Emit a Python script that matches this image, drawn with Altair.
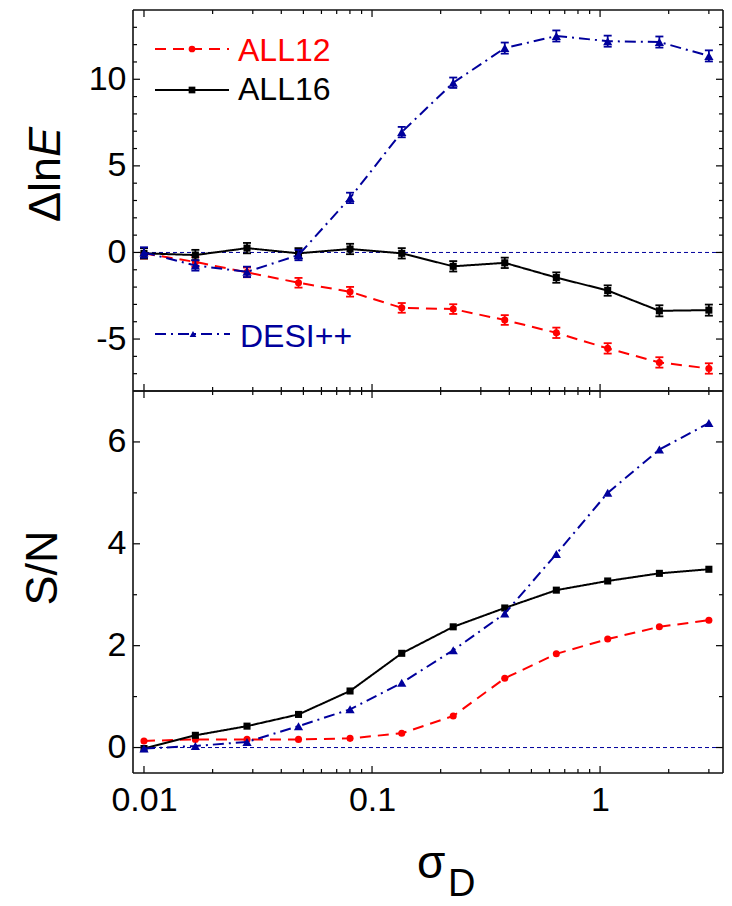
import altair as alt
import pandas as pd

# ---------------- data ----------------
sigma_D = [0.01, 0.0168, 0.0283, 0.0476, 0.0801, 0.135, 0.227, 0.382, 0.643, 1.08, 1.82, 3.0]

dlnE_ALL12 = [-0.05, -0.55, -1.15, -1.75, -2.27, -3.20, -3.27, -3.90, -4.64, -5.54, -6.35, -6.70]
dlnE_ALL16 = [-0.05, -0.15, 0.25, -0.05, 0.20, -0.05, -0.80, -0.60, -1.45, -2.20, -3.37, -3.33]
dlnE_DESI = [0.00, -0.75, -1.12, -0.15, 3.15, 6.95, 9.80, 11.80, 12.50, 12.20, 12.15, 11.35]

err_ALL12 = [0.30, 0.28, 0.28, 0.28, 0.28, 0.28, 0.28, 0.28, 0.30, 0.30, 0.30, 0.30]
err_ALL16 = [0.30, 0.30, 0.30, 0.30, 0.30, 0.30, 0.30, 0.30, 0.30, 0.30, 0.32, 0.32]
err_DESI = [0.30, 0.30, 0.30, 0.30, 0.30, 0.30, 0.30, 0.32, 0.32, 0.32, 0.32, 0.32]

SN_ALL12 = [0.13, 0.16, 0.16, 0.16, 0.18, 0.28, 0.62, 1.36, 1.84, 2.13, 2.37, 2.50]
SN_ALL16 = [-0.02, 0.24, 0.42, 0.65, 1.11, 1.85, 2.37, 2.74, 3.09, 3.27, 3.42, 3.50]
SN_DESI = [-0.02, 0.03, 0.11, 0.42, 0.75, 1.27, 1.91, 2.63, 3.80, 5.00, 5.85, 6.37]

series_names = ["ALL12", "ALL16", "DESI++"]

x_major = [0.01, 0.1, 1]
x_minor = [0.02, 0.03, 0.04, 0.05, 0.06, 0.07, 0.08, 0.09,
           0.2, 0.3, 0.4, 0.5, 0.6, 0.7, 0.8, 0.9, 2, 3]
top_y_major = [-5, 0, 5, 10]
top_y_minor = [-7, -6, -4, -3, -2, -1, 1, 2, 3, 4, 6, 7, 8, 9, 11, 12, 13]
bot_y_major = [0, 2, 4, 6]
bot_y_minor = [1, 3, 5]

# ---------------- styles ----------------
FONT = "Liberation Sans"
RED = "#FF0000"
BLACK = "#000000"
BLUE = "#00009C"
style = {
    "ALL12": dict(color=RED, dash=[11, 7], shape="circle", size=50),
    "ALL16": dict(color=BLACK, dash=[1, 0], shape="square", size=50),
    "DESI++": dict(color=BLUE, dash=[11, 5, 2, 5], shape="triangle-up", size=85),
}

W = 590
H1 = 381
H2 = 382
xscale = alt.Scale(type="log", domain=[0.00895, 3.46], nice=False)
one = pd.DataFrame({"a": [0]})


def tick_layers(x_enc, H):
    layers = []
    for vals, L in ((x_major, 7), (x_minor, 4)):
        d = pd.DataFrame({"sigma": vals})
        layers.append(alt.Chart(d).mark_rule(color=BLACK, strokeWidth=1.2).encode(
            x=x_enc, y=alt.value(H), y2=alt.value(H - L)))
        layers.append(alt.Chart(d).mark_rule(color=BLACK, strokeWidth=1.2).encode(
            x=x_enc, y=alt.value(0), y2=alt.value(L)))
    return layers


def ytick_layers(y_enc, maj, mnr):
    layers = []
    for vals, L in ((maj, 7), (mnr, 4)):
        d = pd.DataFrame({"val": vals})
        layers.append(alt.Chart(d).mark_rule(color=BLACK, strokeWidth=1.2).encode(
            y=y_enc, x=alt.value(0), x2=alt.value(L)))
        layers.append(alt.Chart(d).mark_rule(color=BLACK, strokeWidth=1.2).encode(
            y=y_enc, x=alt.value(W), x2=alt.value(W - L)))
    return layers


def frame_layers():
    c = dict(color="#111111", strokeWidth=1.6)
    return [
        alt.Chart(one).mark_rule(**c).encode(x=alt.value(0), x2=alt.value(W), y=alt.value(0)),
        alt.Chart(one).mark_rule(**c).encode(x=alt.value(0), x2=alt.value(W), y=alt.value("height")),
        alt.Chart(one).mark_rule(**c).encode(x=alt.value(0), y=alt.value(0), y2=alt.value("height")),
        alt.Chart(one).mark_rule(**c).encode(x=alt.value(W), y=alt.value(0), y2=alt.value("height")),
    ]


def text(t, x, y, size, color=BLACK, align="left", angle=0, style_=None, baseline="alphabetic"):
    kw = dict(align=align, baseline=baseline, fontSize=size, font=FONT, color=color)
    if angle:
        kw["angle"] = angle
    if style_:
        kw["fontStyle"] = style_
    return alt.Chart(pd.DataFrame({"t": [t]})).mark_text(**kw).encode(
        text="t:N", x=alt.value(x), y=alt.value(y))


def panel(values, errs, ydom, H, ymaj, ymin, bottom):
    yscale = alt.Scale(domain=ydom, nice=False, zero=False)
    yaxis = alt.Axis(values=ymaj, labelExpr="datum.value + ''", labelFontSize=34,
                     labelFont=FONT, labelColor=BLACK, labelPadding=7, ticks=False,
                     tickSize=0, domain=False, grid=False, title=None)
    if bottom:
        xaxis = alt.Axis(values=x_major, format="~g", labelFontSize=34, labelFont=FONT,
                         labelColor=BLACK, labelPadding=10, ticks=False, tickSize=0,
                         domain=False, grid=False, title=None, labelFlush=False)
    else:
        xaxis = None
    x_enc = alt.X("sigma:Q", scale=xscale, axis=xaxis)
    y_enc = alt.Y("val:Q", scale=yscale, axis=yaxis)

    layers = []
    layers.append(alt.Chart(one).mark_rule(color=BLUE, strokeDash=[4, 3], strokeWidth=1).encode(
        y=alt.Y(datum=0, scale=yscale, axis=yaxis)))
    for name, vals, err in zip(series_names, values, errs if errs else [None] * 3):
        st = style[name]
        d = pd.DataFrame({"sigma": sigma_D, "val": vals})
        layers.append(alt.Chart(d).mark_line(color=st["color"], strokeDash=st["dash"],
                                             strokeWidth=2).encode(x=x_enc, y=y_enc))
        if err is not None:
            de = pd.DataFrame({"sigma": sigma_D,
                               "lo": [v - e for v, e in zip(vals, err)],
                               "hi": [v + e for v, e in zip(vals, err)]})
            layers.append(alt.Chart(de).mark_rule(color=st["color"], strokeWidth=1.8).encode(
                x=x_enc, y=alt.Y("lo:Q", scale=yscale, axis=yaxis), y2="hi:Q"))
            for f in ("lo", "hi"):
                layers.append(alt.Chart(de).mark_tick(color=st["color"], orient="horizontal",
                                                      size=8, thickness=1.8, opacity=1).encode(
                    x=x_enc, y=alt.Y(f + ":Q", scale=yscale, axis=yaxis)))
        layers.append(alt.Chart(d).mark_point(filled=True, opacity=1, color=st["color"],
                                              shape=st["shape"], size=st["size"]).encode(x=x_enc, y=y_enc))
    layers += tick_layers(x_enc, H)
    layers += ytick_layers(y_enc, ymaj, ymin)
    layers += frame_layers()
    return layers


# ---------------- top panel ----------------
top_layers = panel([dlnE_ALL12, dlnE_ALL16, dlnE_DESI], [err_ALL12, err_ALL16, err_DESI],
                   [-8, 14], H1, top_y_major, top_y_minor, False)

# legend (top panel)
leg = []
for name, ly, ty, lx0, lx1, mx, tx in (("ALL12", 39, 51, 22, 96, 59, 105),
                                       ("ALL16", 80, 90, 22, 96, 59, 105),
                                       ("DESI++", 324, 337, 22, 97, 60, 107)):
    st = style[name]
    leg.append(alt.Chart(one).mark_rule(color=st["color"], strokeDash=st["dash"], strokeWidth=2).encode(
        x=alt.value(lx0), x2=alt.value(lx1), y=alt.value(ly)))
    leg.append(alt.Chart(one).mark_point(filled=True, opacity=1, color=st["color"], shape=st["shape"],
                                         size=45).encode(x=alt.value(mx), y=alt.value(ly)))
    leg.append(text(name, tx, ty, 32, color=st["color"]))

# y title with italic E
leg.append(text("\u0394ln", -73, 147, 45, angle=270, align="right"))
leg.append(text("E", -73, 147, 45, angle=270, align="left", style_="italic"))
# invisible anchor fixing the top-left of the page
leg.append(alt.Chart(one).mark_rule(strokeOpacity=0).encode(
    x=alt.value(-133), x2=alt.value(W + 9), y=alt.value(-10)))

top = alt.layer(*top_layers, *leg).properties(width=W, height=H1)

# ---------------- bottom panel ----------------
bot_layers = panel([SN_ALL12, SN_ALL16, SN_DESI], None, [-0.5, 7], H2,
                   bot_y_major, bot_y_minor, True)
bot_extra = [
    text("S/N", -76, 177, 45, angle=270, align="center"),
    text("\u03c3", 284, 487, 46),
    text("D", 315, 505, 38),
    alt.Chart(one).mark_rule(strokeOpacity=0).encode(
        x=alt.value(-133), x2=alt.value(W + 9), y=alt.value(512)),
]
bot = alt.layer(*bot_layers, *bot_extra).properties(width=W, height=H2)

chart = alt.vconcat(top, bot, spacing=0, bounds="flush").properties(
    padding=0, background="white"
).configure_view(stroke=None)

chart.save("out.html", embed_options={"renderer": "svg", "actions": False})
